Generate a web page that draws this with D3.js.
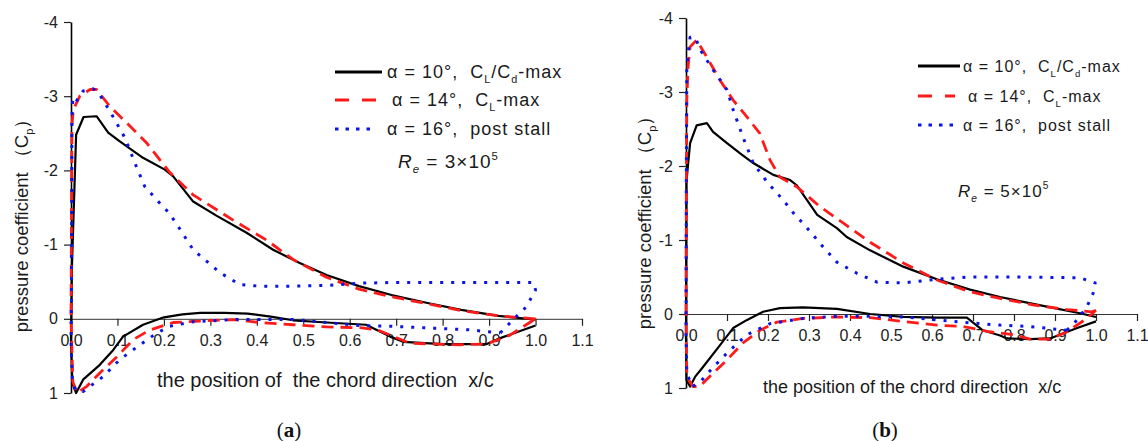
<!DOCTYPE html>
<html>
<head>
<meta charset="utf-8">
<script src="https://cdn.jsdelivr.net/npm/d3@7"></script>
<style>
body { margin: 0; background: #fff; }
svg { font-family: "Liberation Sans", Arial, sans-serif; }
text { white-space: pre; }
</style>
</head>
<body>
<div id="chart"></div>
<script>
// tick values
var xTicks = [0, 0.1, 0.2, 0.3, 0.4, 0.5, 0.6, 0.7, 0.8, 0.9, 1.0, 1.1];
var yTicks = [-4, -3, -2, -1, 0, 1];

// legend labels, [text, isSubscript]
var legendLabels = [
    [["α = 10°,  ", 0], ["C", 0], ["L", 1], ["/C", 0], ["d", 1], ["-max", 0]],
    [["α = 14°,  ", 0], ["C", 0], ["L", 1], ["-max", 0]],
    [["α = 16°,  ", 0], ["post stall", 0]]
];

// (a) Re = 3e5 : [x/c, Cp], leading edge -> trailing edge
var aUp10 = [[0,0.3],[0.002,-0.7],[0.011,-2.48],[0.027,-2.72],[0.055,-2.73],[0.08,-2.51],[0.105,-2.39],[0.155,-2.17],[0.202,-2.01],[0.22,-1.92],[0.263,-1.58],[0.313,-1.39],[0.378,-1.16],[0.435,-0.93],[0.49,-0.76],[0.55,-0.59],[0.62,-0.44],[0.69,-0.32],[0.77,-0.21],[0.84,-0.12],[0.92,-0.04],[1.0,0.01]];
var aLo10 = [[0,0.3],[0.003,0.87],[0.011,1.0],[0.026,0.82],[0.062,0.62],[0.091,0.42],[0.112,0.24],[0.155,0.08],[0.2,-0.02],[0.24,-0.06],[0.278,-0.08],[0.33,-0.08],[0.38,-0.07],[0.43,-0.03],[0.478,0.02],[0.55,0.05],[0.635,0.08],[0.687,0.24],[0.715,0.31],[0.8,0.34],[0.895,0.34],[0.924,0.26],[1.0,0.09]];
var aUp14 = [[0,0.0],[0.002,-2.6],[0.005,-2.82],[0.019,-3.0],[0.041,-3.09],[0.055,-3.09],[0.084,-2.86],[0.12,-2.64],[0.163,-2.37],[0.213,-1.97],[0.263,-1.67],[0.349,-1.33],[0.421,-1.06],[0.478,-0.8],[0.55,-0.56],[0.62,-0.4],[0.687,-0.3],[0.77,-0.2],[0.84,-0.11],[0.92,-0.04],[1.0,0.0]];
var aLo14 = [[0,0.0],[0.004,0.85],[0.013,1.0],[0.034,0.91],[0.062,0.73],[0.099,0.51],[0.134,0.28],[0.17,0.15],[0.22,0.05],[0.277,0.03],[0.35,0.01],[0.407,0.05],[0.478,0.08],[0.55,0.11],[0.622,0.12],[0.66,0.15],[0.687,0.22],[0.73,0.33],[0.837,0.35],[0.895,0.34],[0.945,0.22],[1.0,0.0]];
var aUp16 = [[0,0.3],[0.001,-0.3],[0.002,-2.72],[0.004,-2.96],[0.009,-2.91],[0.026,-3.07],[0.048,-3.10],[0.062,-3.02],[0.088,-2.75],[0.116,-2.44],[0.142,-2.03],[0.159,-1.78],[0.185,-1.6],[0.209,-1.44],[0.224,-1.31],[0.263,-0.93],[0.293,-0.77],[0.321,-0.62],[0.364,-0.46],[0.407,-0.44],[0.478,-0.44],[0.55,-0.45],[0.622,-0.48],[0.7,-0.49],[0.8,-0.49],[0.9,-0.49],[0.995,-0.49],[1.0,-0.39],[0.98,-0.16],[0.952,0.01],[0.924,0.19]];
var aLo16 = [[0,0.3],[0.003,0.8],[0.01,0.97],[0.026,0.98],[0.041,0.91],[0.069,0.78],[0.105,0.55],[0.142,0.38],[0.185,0.19],[0.213,0.1],[0.263,0.04],[0.35,0.01],[0.478,0.01],[0.55,0.05],[0.622,0.09],[0.687,0.1],[0.76,0.12],[0.86,0.15],[0.924,0.19]];

// (b) Re = 5e5
var bUp10 = [[0,0.3],[0.001,-1.79],[0.01,-2.31],[0.026,-2.55],[0.051,-2.58],[0.066,-2.46],[0.1,-2.31],[0.132,-2.17],[0.164,-2.04],[0.213,-1.88],[0.254,-1.81],[0.27,-1.74],[0.32,-1.34],[0.368,-1.16],[0.392,-1.04],[0.449,-0.86],[0.53,-0.64],[0.612,-0.47],[0.693,-0.33],[0.766,-0.23],[0.8,-0.19],[0.88,-0.1],[0.961,-0.01],[1.0,0.04]];
var bLo10 = [[0,0.3],[0.001,0.89],[0.01,0.98],[0.022,0.85],[0.041,0.72],[0.083,0.42],[0.115,0.19],[0.149,0.08],[0.188,-0.03],[0.229,-0.08],[0.285,-0.09],[0.368,-0.07],[0.449,0.0],[0.53,0.04],[0.612,0.05],[0.685,0.05],[0.724,0.22],[0.766,0.29],[0.783,0.33],[0.839,0.34],[0.888,0.33],[0.954,0.19],[1.0,0.1]];
var bUp14 = [[0,0.0],[0.001,-1.9],[0.002,-2.89],[0.005,-3.34],[0.01,-3.61],[0.022,-3.68],[0.026,-3.70],[0.051,-3.47],[0.083,-3.16],[0.115,-2.89],[0.149,-2.66],[0.18,-2.44],[0.205,-2.08],[0.229,-1.85],[0.27,-1.72],[0.327,-1.45],[0.383,-1.23],[0.449,-0.97],[0.53,-0.69],[0.612,-0.46],[0.693,-0.3],[0.766,-0.21],[0.85,-0.12],[0.93,-0.06],[0.99,-0.03],[1.0,-0.05]];
var bLo14 = [[0,0.0],[0.002,0.85],[0.017,0.98],[0.033,0.98],[0.066,0.8],[0.1,0.62],[0.139,0.39],[0.18,0.22],[0.222,0.11],[0.285,0.06],[0.368,0.04],[0.449,0.05],[0.53,0.1],[0.612,0.15],[0.676,0.17],[0.741,0.24],[0.798,0.28],[0.839,0.34],[0.888,0.34],[0.929,0.24],[0.978,0.06],[1.0,-0.05]];
var bUp16 = [[0,0.3],[0.001,-2.17],[0.002,-3.3],[0.005,-3.52],[0.01,-3.74],[0.022,-3.74],[0.038,-3.54],[0.066,-3.3],[0.1,-3.03],[0.115,-2.76],[0.139,-2.39],[0.164,-2.04],[0.197,-1.79],[0.237,-1.54],[0.27,-1.31],[0.285,-1.23],[0.334,-0.91],[0.368,-0.7],[0.417,-0.55],[0.466,-0.43],[0.53,-0.42],[0.612,-0.47],[0.693,-0.5],[0.8,-0.5],[0.961,-0.49],[0.998,-0.42],[0.993,-0.28],[0.978,-0.1],[0.954,0.08],[0.929,0.22]];
var bLo16 = [[0,0.3],[0.002,0.8],[0.015,0.98],[0.033,0.93],[0.066,0.72],[0.107,0.49],[0.149,0.28],[0.205,0.13],[0.285,0.06],[0.368,0.03],[0.449,0.03],[0.53,0.04],[0.612,0.08],[0.693,0.12],[0.766,0.15],[0.839,0.17],[0.929,0.22]];

var styles = [
    {color: "#000", width: 2.2, dash: null},
    {color: "#ff1a1a", width: 2.8, dash: "12,7"},
    {color: "#0a14e6", width: 3, dash: "3,8"}
];

var svg = d3.select("#chart")
    .append("svg")
        .attr("width", 1148)
        .attr("height", 441);

function drawPanel(p) {
    var x = d3.scaleLinear().domain([0, 1.1]).range([p.left, p.right]);
    var y = d3.scaleLinear().domain([-4, 1]).range([p.top, p.bottom]);
    var g = svg.append("g");

    //x-axis along Cp = 0
    var xa = g.append("g")
        .attr("transform", "translate(0," + y(0) + ")")
        .call(d3.axisBottom(x).tickValues(xTicks).tickFormat(d3.format(".1f"))
            .tickSize(7).tickSizeOuter(0).tickPadding(9));
    xa.select(".domain").attr("stroke", "#333").attr("stroke-width", 1);

    //y-axis
    var ya = g.append("g")
        .attr("transform", "translate(" + x(0) + ",0)")
        .call(d3.axisLeft(y).tickValues(yTicks).tickFormat(function(d){ return String(d); })
            .tickSize(7).tickSizeOuter(0).tickPadding(6));
    ya.select(".domain").attr("stroke", "#000").attr("stroke-width", 1.6);

    [xa, ya].forEach(function(a){
        a.attr("font-family", "'Liberation Sans', Arial, sans-serif")
            .attr("font-size", "16px");
        a.selectAll("text").attr("fill", "#222");
        a.selectAll(".tick line").attr("stroke", "#222").attr("stroke-width", 1.2);
    });

    //the curves
    var line = d3.line()
        .x(function(d){ return x(d[0]); })
        .y(function(d){ return y(d[1]); });
    p.series.forEach(function(s, i){
        var pts = s[0].slice().reverse().concat(s[1]);
        g.append("path")
            .attr("d", line(pts))
            .attr("fill", "none")
            .attr("stroke", styles[i].color)
            .attr("stroke-width", styles[i].width)
            .attr("stroke-dasharray", styles[i].dash)
            .attr("stroke-linejoin", "round");
    });

    //legend
    legendLabels.forEach(function(lab, i){
        var ly = p.legY[i];
        g.append("line")
            .attr("x1", p.legX0).attr("x2", p.legX1[i])
            .attr("y1", ly).attr("y2", ly)
            .attr("stroke", styles[i].color)
            .attr("stroke-width", i == 0 ? 3 : 3.2)
            .attr("stroke-dasharray", i == 0 ? null : (i == 1 ? "14,13" : "3.5,7"));
        var t = g.append("text")
            .attr("x", p.legText[i])
            .attr("y", ly + 6)
            .attr("font-size", p.legFont + "px")
            .attr("letter-spacing", "1px")
            .attr("fill", "#1a1a1a");
        var wasSub = false;
        lab.forEach(function(part){
            var ts = t.append("tspan").text(part[0]);
            if (part[1]) ts.attr("font-size", (p.legFont * 0.6) + "px").attr("dy", 5);
            else if (wasSub) ts.attr("dy", -5);
            wasSub = part[1];
        });
    });

    //Reynolds number
    var re = g.append("text")
        .attr("x", p.reX).attr("y", p.reY)
        .attr("font-size", p.reFont + "px")
        .attr("letter-spacing", "1px")
        .attr("fill", "#1a1a1a");
    re.append("tspan").attr("font-style", "italic").text("R");
    re.append("tspan").attr("font-style", "italic").attr("font-size", (p.reFont * 0.6) + "px").attr("dy", 5).text("e");
    re.append("tspan").attr("dy", -5).text(" = " + p.re + "×10");
    re.append("tspan").attr("font-size", (p.reFont * 0.6) + "px").attr("dy", -8).text("5");

    //axis titles
    var yt = g.append("text")
        .attr("transform", "translate(" + p.yTitleX + "," + p.yTitleY + ") rotate(-90)")
        .attr("text-anchor", "middle")
        .attr("font-size", "18.5px")
        .attr("fill", "#1a1a1a");
    yt.append("tspan").text("pressure coefficient （C");
    yt.append("tspan").attr("font-size", "11px").attr("dy", 5).text("p");
    yt.append("tspan").attr("dy", -5).text("）");

    g.append("text")
        .attr("x", p.xTitleX).attr("y", p.xTitleY)
        .attr("font-size", p.xTitleFont + "px")
        .attr("fill", "#1a1a1a")
        .text(p.xTitle);

    //panel label
    var pl = g.append("text")
        .attr("x", p.labelX).attr("y", 437)
        .attr("text-anchor", "middle")
        .attr("font-family", "'Liberation Serif', 'DejaVu Serif', serif")
        .attr("font-size", "21px")
        .attr("fill", "#111");
    pl.append("tspan").text("(");
    pl.append("tspan").attr("font-weight", "bold").text(p.label);
    pl.append("tspan").text(")");
}

drawPanel({
    left: 71, right: 582, top: 22, bottom: 393,
    series: [[aUp10, aLo10], [aUp14, aLo14], [aUp16, aLo16]],
    legX0: 335, legX1: [382, 377, 375], legY: [72, 100, 129], legText: [387, 392, 387], legFont: 18,
    reX: 398, reY: 168, reFont: 19, re: "3",
    yTitleX: 28, yTitleY: 221,
    xTitleX: 157, xTitleY: 387, xTitleFont: 20,
    xTitle: "the position of  the chord direction  x/c",
    labelX: 289, label: "a"
});

drawPanel({
    left: 686, right: 1137, top: 18, bottom: 388,
    series: [[bUp10, bLo10], [bUp14, bLo14], [bUp16, bLo16]],
    legX0: 918, legX1: [960, 955, 955], legY: [66, 96, 125], legText: [963, 968, 963], legFont: 16,
    reX: 958, reY: 197, reFont: 17, re: "5",
    yTitleX: 651, yTitleY: 218,
    xTitleX: 763, xTitleY: 393, xTitleFont: 18,
    xTitle: "the position of the chord direction  x/c",
    labelX: 885, label: "b"
});
</script>
</body>
</html>
